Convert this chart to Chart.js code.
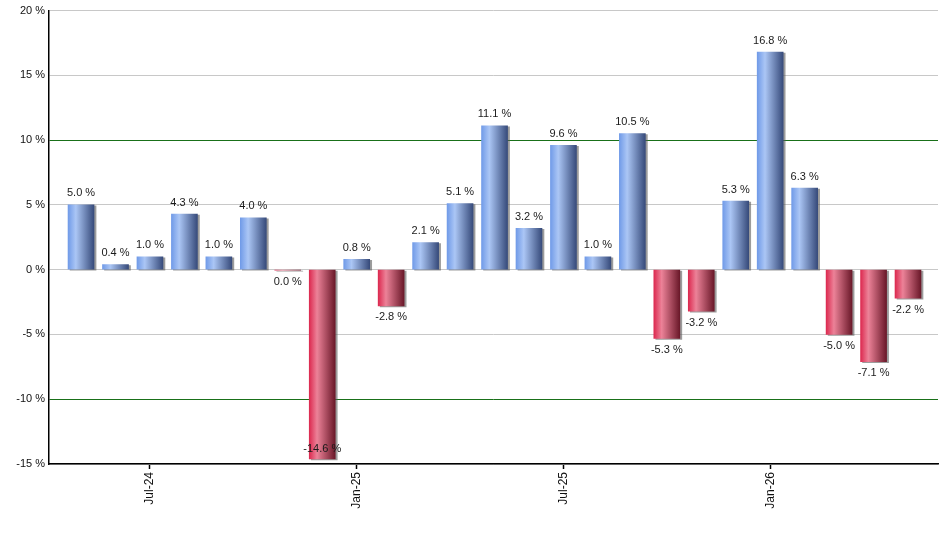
<!DOCTYPE html>
<html>
<head>
<meta charset="utf-8">
<script src="https://cdn.jsdelivr.net/npm/chart.js@4"></script>
<style>
  html, body { margin: 0; padding: 0; background: #fff; }
  #box { width: 940px; height: 550px; }
</style>
</head>
<body>
<div id="box"><canvas id="returns_chart"></canvas></div>
<script>
//
// data
//
var months = ['May-24', 'Jun-24', 'Jul-24', 'Aug-24', 'Sep-24', 'Oct-24', 'Nov-24', 'Dec-24',
              'Jan-25', 'Feb-25', 'Mar-25', 'Apr-25', 'May-25', 'Jun-25', 'Jul-25', 'Aug-25',
              'Sep-25', 'Oct-25', 'Nov-25', 'Dec-25', 'Jan-26', 'Feb-26', 'Mar-26', 'Apr-26', 'May-26'];
var returns = [5.0, 0.4, 1.0, 4.3, 1.0, 4.0, -0.04, -14.6,
               0.8, -2.8, 2.1, 5.1, 11.1, 3.2, 9.6, 1.0,
               10.5, -5.3, -3.2, 5.3, 16.8, 6.3, -5.0, -7.1, -2.2];
var y_ticks = [-15, -10, -5, 0, 5, 10, 15, 20];

// only january / july get a tick on the x axis
var x_tick_idx = [];
for (let i in months) {
  if (months[i].indexOf('Jan') == 0 || months[i].indexOf('Jul') == 0) {
    x_tick_idx.push(parseInt(i));
  }
}

var bar_width = 26;

function pctText(v) {
  if (Math.abs(v) < 0.05) {
    return '0.0 %';
  }
  return v.toFixed(1) + ' %';
}

//
// horizontal "cylinder" gradient per bar
//
function barFill(context) {
  var chart = context.chart;
  var v = context.raw ? context.raw.y : 0;
  var up = v >= 0;
  if (!chart.chartArea || context.dataIndex == undefined) {
    return up ? '#7fa3ea' : '#d9435f';
  }
  var cx = chart.scales.x.getPixelForValue(context.dataIndex);
  var g = chart.ctx.createLinearGradient(cx - bar_width / 2, 0, cx + bar_width / 2, 0);
  if (up) {
    g.addColorStop(0, '#719be8');
    g.addColorStop(0.3, '#abc6f5');
    g.addColorStop(1, '#374b7b');
  } else {
    g.addColorStop(0, '#dc2a50');
    g.addColorStop(0.3, '#ec8298');
    g.addColorStop(1, '#6a1829');
  }
  return g;
}

//
// shadow under the bars
//
var shadowPlugin = {
  id : 'barShadow',
  beforeDatasetsDraw : function(chart) {
    var ctx = chart.ctx;
    ctx.save();
    ctx.shadowColor = 'rgba(90,90,90,0.6)';
    ctx.shadowOffsetX = 2;
    ctx.shadowOffsetY = 1;
    ctx.shadowBlur = 0;
  },
  afterDatasetsDraw : function(chart) {
    chart.ctx.restore();
  }
};

//
// value labels above / below bars
//
var labelPlugin = {
  id : 'valueLabels',
  afterDraw : function(chart) {
    var ctx = chart.ctx;
    var meta = chart.getDatasetMeta(0);
    var area = chart.chartArea;
    ctx.save();
    ctx.font = '11px "Liberation Sans", Arial, sans-serif';
    ctx.fillStyle = '#1a1a1a';
    ctx.textAlign = 'center';
    meta.data.forEach(function(bar, i) {
      var v = returns[i];
      var txt = pctText(v);
      if (v >= 0) {
        ctx.textBaseline = 'bottom';
        ctx.fillText(txt, bar.x, bar.y - 6);
      } else {
        var y = bar.y + 6;
        if (y + 13 > area.bottom) {
          y = area.bottom - 21;
        }
        ctx.textBaseline = 'top';
        ctx.fillText(txt, bar.x, y);
      }
    });
    ctx.restore();
  }
};

var chart_config = {
  type : 'bar',
  data : {
    datasets : [ {
      data : returns.map(function(v, i) { return {x : i, y : v}; }),
      backgroundColor : barFill,
      borderWidth : 0,
      barThickness : bar_width
    } ]
  },
  options : {
    responsive : true,
    maintainAspectRatio : false,
    animation : false,
    layout : {padding : {top : 10, right : 2, left : 0, bottom : 0}},
    plugins : {
      legend : {display : false},
      tooltip : {enabled : false}
    },
    scales : {
      x : {
        type : 'linear',
        offset : false,
        min : -0.93,
        max : 24.87,
        afterBuildTicks : function(scale) {
          scale.ticks = x_tick_idx.map(function(v) { return {value : v}; });
        },
        afterFit : function(scale) { scale.height = 86; },
        border : {display : true, color : '#000', width : 1.5},
        grid : {
          offset : false,
          drawOnChartArea : false,
          drawTicks : true,
          tickLength : 5,
          tickColor : '#000',
          tickWidth : 1.5
        },
        ticks : {
          autoSkip : false,
          minRotation : 90,
          maxRotation : 90,
          padding : 3,
          color : '#111',
          font : {family : '"Liberation Sans", Arial, sans-serif', size : 12},
          callback : function(value) { return months[value]; }
        }
      },
      y : {
        min : -15,
        max : 20,
        afterBuildTicks : function(scale) {
          scale.ticks = y_ticks.map(function(v) { return {value : v}; });
        },
        afterFit : function(scale) { scale.width = 49; },
        border : {display : true, color : '#000', width : 1.5},
        grid : {
          drawTicks : false,
          color : function(c) {
            if (c.tick && Math.abs(c.tick.value) == 10) {
              return '#197019';
            }
            return '#c8c8c8';
          },
          lineWidth : 1
        },
        ticks : {
          padding : 4,
          color : '#111',
          font : {family : '"Liberation Sans", Arial, sans-serif', size : 11},
          callback : function(value) { return value + ' %'; }
        }
      }
    }
  },
  plugins : [ shadowPlugin, labelPlugin ]
};

var ret_chart = new Chart(document.getElementById('returns_chart').getContext('2d'), chart_config);
</script>
</body>
</html>
